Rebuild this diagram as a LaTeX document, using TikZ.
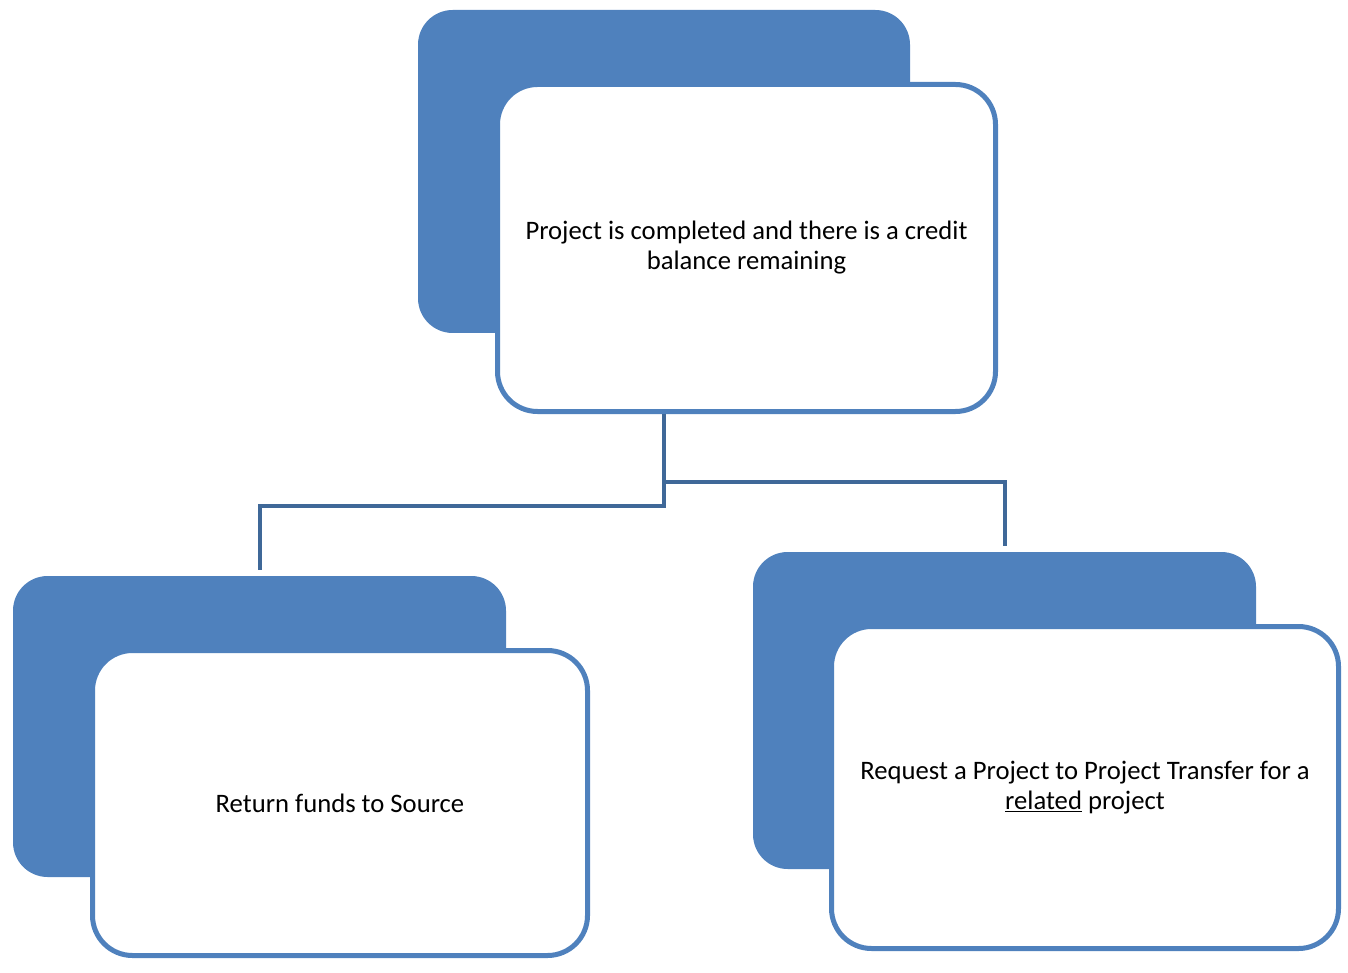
\documentclass[tikz,border=0pt]{standalone}
\usepackage{fontspec}
\setmainfont{Carlito}
\definecolor{accent}{HTML}{4F81BD}
\definecolor{connblue}{HTML}{3F6898}
\begin{document}
\begin{tikzpicture}[x=0.75pt,y=-0.75pt,
  backbox/.style={fill=accent,draw=none,rounded corners=26pt,inner sep=0pt,outer sep=0pt},
  frontbox/.style={fill=white,draw=accent,line width=3.75pt,rounded corners=30pt,inner sep=0pt,outer sep=0pt,align=center,
    font=\fontsize{20pt}{22.5pt}\selectfont},
  conn/.style={draw=connblue,line width=3pt}]
\useasboundingbox (0,0) rectangle (1348,973);
% back boxes
\node[backbox,minimum width=369pt,minimum height=242.25pt] (topB) at (664,171.5) {};
\node[backbox,minimum width=369.75pt,minimum height=225.75pt] (blB) at (259.5,726.5) {};
\node[backbox,minimum width=377.25pt,minimum height=237.75pt] (brB) at (1004.5,710.5) {};
% front boxes
\node[frontbox,minimum width=373.5pt,minimum height=245.25pt] (top) at (746.5,248)
  {Project is completed and there is a credit\\balance remaining};
\node[frontbox,minimum width=371.25pt,minimum height=228.75pt] (bl) at (340,803)
  {Return funds to Source};
\node[frontbox,minimum width=380.25pt,minimum height=241.5pt] (br) at (1085,787.5)
  {Request a Project to Project Transfer for a\\\underline{related} project};
% connectors
\coordinate (jl) at (664,506);
\coordinate (jr) at (664,482);
\draw[conn] ([yshift=-1.5pt]top.south -| topB) -- (jl) -| ([yshift=4.5pt]blB.north);
\draw[conn] (jr) -| ([yshift=4.5pt]brB.north);
\end{tikzpicture}
\end{document}
